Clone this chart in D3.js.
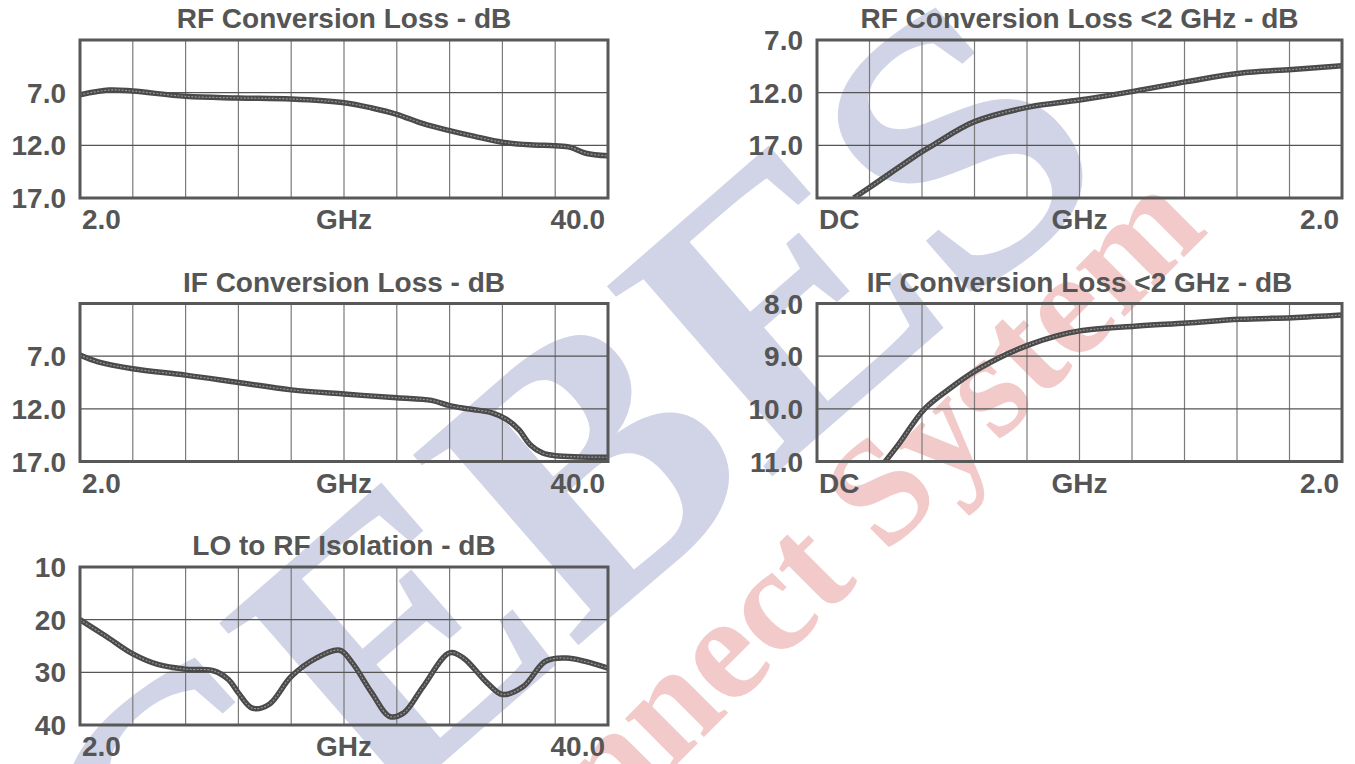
<!DOCTYPE html>
<html>
<head>
<meta charset="utf-8">
<script src="https://cdn.jsdelivr.net/npm/d3@7"></script>
<style>
  html, body { margin: 0; padding: 0; background: #fff; }
  svg { display: block; }
  text { font-family: "Liberation Sans", Arial, sans-serif; font-weight: bold; fill: #555; }
</style>
</head>
<body>
<div id="chart"></div>
<script>
// RF conversion loss 2-40 GHz
const rfFreq = [2, 4.1, 5.8, 9.6, 13.4, 17.2, 21.0, 23.0, 24.8, 26.7, 28.6, 30.4, 32.4, 34.4, 36.2, 37.3, 38.4, 40];
const rfLoss = [7.2, 6.75, 6.85, 7.35, 7.5, 7.6, 7.95, 8.45, 9.05, 9.95, 10.6, 11.15, 11.7, 11.95, 12.05, 12.2, 12.75, 13.0];

// RF conversion loss DC-2 GHz
const rfLowFreq = [0.14, 0.2, 0.4, 0.44, 0.6, 0.81, 1.0, 1.21, 1.41, 1.61, 1.81, 2.0];
const rfLowLoss = [22.0, 21.0, 17.6, 17.0, 14.75, 13.35, 12.7, 11.85, 10.95, 10.15, 9.8, 9.45];

// IF conversion loss 2-40 GHz
const ifFreq = [2, 3.3, 5.8, 9.6, 13.4, 17.2, 21.0, 24.8, 27.3, 28.6, 29.9, 31.6, 32.7, 33.6, 34.4, 35.3, 36.2, 40];
const ifLoss = [6.9, 7.55, 8.2, 8.8, 9.5, 10.2, 10.6, 10.95, 11.2, 11.7, 12.0, 12.35, 13.0, 14.0, 15.4, 16.2, 16.45, 16.6];

// IF conversion loss DC-2 GHz
const ifLowFreq = [0.26, 0.31, 0.41, 0.51, 0.6, 0.72, 0.81, 0.91, 1.0, 1.21, 1.41, 1.61, 1.81, 2.0];
const ifLowLoss = [11.0, 10.68, 10.0, 9.6, 9.29, 8.97, 8.78, 8.62, 8.52, 8.43, 8.37, 8.3, 8.27, 8.22];

// LO to RF isolation 2-40 GHz
const isoFreq = [2, 3.9, 5.8, 7.6, 9.6, 11.6, 12.7, 13.4, 14.4, 15.6, 17.2, 19.0, 20.7, 21.6, 23.0, 24.3, 25.3, 26.7, 28.6, 29.6, 31.3, 32.4, 33.9, 35.5, 37.0, 40];
const isoDb = [20, 23.2, 26.5, 28.5, 29.4, 29.7, 31.4, 33.9, 36.8, 36.1, 30.8, 27.3, 25.8, 28.2, 33.9, 38.4, 37.7, 32.7, 26.3, 27.3, 32.0, 34.2, 32.7, 27.9, 27.3, 29.2];

// tick labels
const wideXLabels = ["2.0", "GHz", "40.0"];
const lowXLabels = ["DC", "GHz", "2.0"];
const lossTicks = [7, 12, 17];
const rfLowTicks = [7, 12, 17];
const ifLowTicks = [8, 9, 10, 11];
const isoTicks = [10, 20, 30, 40];

const W = 1355, H = 764;
const svg = d3.select("#chart").append("svg").attr("width", W).attr("height", H);

// watermark
const wm = svg.append("g").attr("class", "watermark");
wm.append("text")
  .attr("transform", "translate(561,488) rotate(-41)")
  .attr("text-anchor", "middle")
  .attr("dominant-baseline", "central")
  .style("font-family", "'Liberation Serif', serif")
  .style("font-size", "385px")
  .style("fill", "rgb(208,212,230)")
  .text("CEBES");
wm.append("text")
  .attr("transform", "translate(810,559) rotate(-45)")
  .attr("text-anchor", "middle")
  .attr("dominant-baseline", "central")
  .style("font-family", "'Liberation Serif', serif")
  .style("font-size", "150px")
  .style("fill", "rgb(242,202,202)")
  .text("Connect System");

const panels = [
  { title: "RF Conversion Loss - dB", x0: 80, y0: 40, w: 528, xd: [2, 40], yd: [2, 17],
    xs: rfFreq, ys: rfLoss, ticks: lossTicks, fmt: d3.format(".1f"), xl: wideXLabels, lx: 66 },
  { title: "RF Conversion Loss <2 GHz - dB", x0: 817, y0: 40, w: 525, xd: [0, 2], yd: [7, 22],
    xs: rfLowFreq, ys: rfLowLoss, ticks: rfLowTicks, fmt: d3.format(".1f"), xl: lowXLabels, lx: 803 },
  { title: "IF Conversion Loss - dB", x0: 80, y0: 303.5, w: 528, xd: [2, 40], yd: [2, 17],
    xs: ifFreq, ys: ifLoss, ticks: lossTicks, fmt: d3.format(".1f"), xl: wideXLabels, lx: 66 },
  { title: "IF Conversion Loss <2 GHz - dB", x0: 817, y0: 303.5, w: 525, xd: [0, 2], yd: [8, 11],
    xs: ifLowFreq, ys: ifLowLoss, ticks: ifLowTicks, fmt: d3.format(".1f"), xl: lowXLabels, lx: 803 },
  { title: "LO to RF Isolation - dB", x0: 80, y0: 567, w: 528, xd: [2, 40], yd: [10, 40],
    xs: isoFreq, ys: isoDb, ticks: isoTicks, fmt: d3.format("d"), xl: wideXLabels, lx: 66 }
];
const ph = 158;

panels.forEach((p, i) => {
  const x = d3.scaleLinear().domain(p.xd).range([0, p.w]);
  const y = d3.scaleLinear().domain(p.yd).range([0, ph]);
  const g = svg.append("g").attr("transform", `translate(${p.x0},${p.y0})`);

  g.append("text")
    .attr("x", p.w / 2).attr("y", -12)
    .attr("text-anchor", "middle")
    .style("font-size", "28px")
    .text(p.title);

  // grid: 10 columns, 3 rows
  const vx = d3.range(1, 10).map((k) => p.xd[0] + (k * (p.xd[1] - p.xd[0])) / 10);
  const hy = d3.range(1, 3).map((k) => p.yd[0] + (k * (p.yd[1] - p.yd[0])) / 3);
  g.selectAll(".vg").data(vx).enter().append("line")
    .attr("x1", (d) => x(d)).attr("x2", (d) => x(d))
    .attr("y1", 0).attr("y2", ph)
    .attr("stroke", "#7a7a7a").attr("stroke-width", 1.2);
  g.selectAll(".hg").data(hy).enter().append("line")
    .attr("x1", 0).attr("x2", p.w)
    .attr("y1", (d) => y(d)).attr("y2", (d) => y(d))
    .attr("stroke", "#555").attr("stroke-width", 1.2);

  // curve
  const clipId = "clip" + i;
  g.append("clipPath").attr("id", clipId)
    .append("rect").attr("width", p.w).attr("height", ph);
  const pts = p.xs.map((v, k) => [v, p.ys[k]]);
  const line = d3.line()
    .x((d) => x(d[0]))
    .y((d) => y(d[1]))
    .curve(d3.curveCatmullRom.alpha(0.5));
  g.append("path").datum(pts)
    .attr("clip-path", `url(#${clipId})`)
    .attr("d", line)
    .attr("fill", "none").attr("stroke", "#4a4a4a").attr("stroke-width", 5.5);
  g.append("path").datum(pts)
    .attr("clip-path", `url(#${clipId})`)
    .attr("d", line)
    .attr("fill", "none").attr("stroke", "#959595").attr("stroke-width", 1.2)
    .attr("stroke-dasharray", "2 1.5");

  // frame
  g.append("rect")
    .attr("width", p.w).attr("height", ph)
    .attr("fill", "none").attr("stroke", "#585858").attr("stroke-width", 3);

  // y labels
  svg.append("g").selectAll("text").data(p.ticks).enter().append("text")
    .attr("x", p.lx)
    .attr("y", (d) => p.y0 + y(d))
    .attr("dy", "0.36em")
    .attr("text-anchor", "end")
    .style("font-size", "28px")
    .text((d) => p.fmt(d));

  // x labels
  const anchors = ["start", "middle", "end"];
  const xpos = [2, p.w / 2, p.w - 3];
  g.selectAll(".xl").data(p.xl).enter().append("text")
    .attr("x", (d, k) => xpos[k])
    .attr("y", ph + 31)
    .attr("text-anchor", (d, k) => anchors[k])
    .style("font-size", "28px")
    .text((d) => d);
});
</script>
</body>
</html>
